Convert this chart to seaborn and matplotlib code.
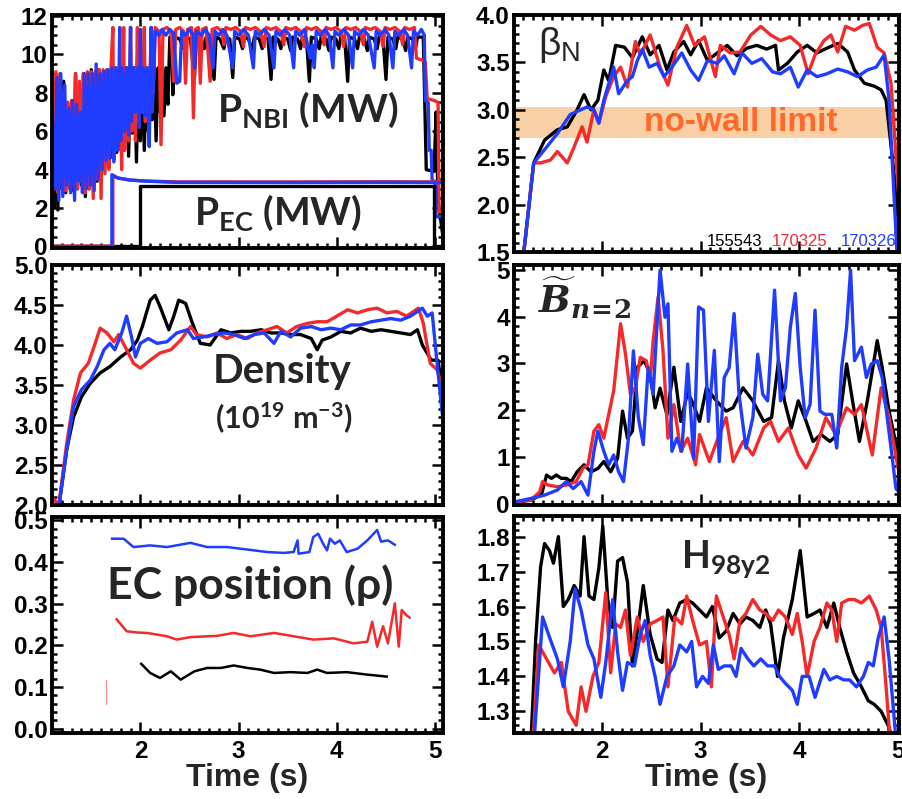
import matplotlib
matplotlib.use("Agg")
import matplotlib.pyplot as plt
from matplotlib.ticker import MultipleLocator, FormatStrFormatter
import numpy as np
import pandas as pd
import seaborn as sns

# ---------------------------------------------------------------- data
SHOTS = ["155543", "170325", "170326"]
COLORS = {"155543": "#000000", "170325": "#f42a2a", "170326": "#1f3cff"}

# Neutral-beam power (MW): (time s, value)
nbi_155543 = [
    (1.10, 6.0), (1.12, 2.0), (1.14, 8.5), (1.16, 1.9), (1.18, 8.8), (1.20, 3.0),
    (1.22, 8.6), (1.24, 2.8), (1.26, 7.5), (1.28, 3.2), (1.30, 7.5), (1.32, 2.9),
    (1.34, 9.0), (1.36, 3.0), (1.38, 8.0), (1.40, 3.2), (1.42, 9.0), (1.44, 2.6),
    (1.46, 9.0), (1.48, 3.0), (1.50, 9.2), (1.52, 3.1), (1.54, 9.0), (1.56, 3.4),
    (1.58, 9.2), (1.60, 3.9), (1.62, 9.0), (1.64, 4.3), (1.66, 9.2), (1.68, 4.1),
    (1.70, 9.2), (1.72, 4.6), (1.74, 9.2), (1.76, 4.9), (1.78, 9.2), (1.80, 5.2),
    (1.82, 9.3), (1.84, 5.5), (1.86, 9.3), (1.88, 4.7), (1.90, 9.3), (1.92, 5.9),
    (1.94, 9.3), (1.96, 4.4), (1.98, 9.3), (2.00, 5.5), (2.02, 9.3), (2.04, 5.0),
    (2.06, 9.3), (2.08, 6.0), (2.10, 9.3), (2.12, 6.6), (2.14, 9.3), (2.16, 5.5),
    (2.18, 9.3), (2.20, 7.0), (2.22, 9.3), (2.24, 6.8), (2.26, 9.3), (2.28, 7.4),
    (2.30, 10.9), (2.32, 10.9), (2.33, 7.9), (2.35, 10.9), (2.40, 10.8), (2.44, 10.3),
    (2.46, 10.9), (2.51, 10.8), (2.55, 8.7), (2.57, 10.9), (2.62, 10.8), (2.65, 10.3),
    (2.67, 10.9), (2.71, 10.8), (2.75, 8.7), (2.77, 10.9), (2.81, 10.8), (2.85, 10.3),
    (2.87, 10.9), (2.91, 10.8), (2.94, 8.8), (2.96, 10.9), (3.01, 10.8), (3.04, 10.3),
    (3.06, 10.9), (3.10, 10.8), (3.14, 10.2), (3.16, 10.9), (3.21, 10.8), (3.24, 10.3),
    (3.26, 10.9), (3.30, 10.8), (3.33, 8.7), (3.35, 10.9), (3.40, 10.8), (3.43, 10.3),
    (3.45, 10.9), (3.50, 10.8), (3.53, 10.2), (3.55, 10.9), (3.60, 10.8), (3.63, 10.3),
    (3.65, 10.9), (3.69, 10.8), (3.72, 8.6), (3.74, 10.9), (3.79, 10.8), (3.82, 10.3),
    (3.84, 10.9), (3.89, 10.8), (3.92, 10.2), (3.94, 10.9), (3.99, 10.8), (4.02, 10.3),
    (4.04, 10.9), (4.08, 10.8), (4.11, 8.6), (4.13, 10.9), (4.18, 10.8), (4.21, 10.3),
    (4.23, 10.9), (4.28, 10.8), (4.31, 10.2), (4.33, 10.9), (4.38, 10.8), (4.41, 10.3),
    (4.43, 10.9), (4.47, 10.8), (4.50, 8.7), (4.52, 10.9), (4.57, 10.8), (4.60, 10.3),
    (4.62, 10.9), (4.67, 10.8), (4.70, 10.2), (4.72, 10.9), (4.77, 10.8), (4.80, 10.3),
    (4.82, 10.9), (4.88, 10.9), (4.91, 4.0), (4.99, 3.9), (5.01, 7.0), (5.03, 2.4),
    (5.08, 0.5),
]
nbi_170325 = [
    (1.10, 6.4), (1.12, 3.0), (1.14, 9.1), (1.16, 2.8), (1.18, 9.0), (1.20, 3.3),
    (1.22, 8.0), (1.24, 2.9), (1.26, 7.5), (1.28, 3.0), (1.30, 7.6), (1.32, 3.2),
    (1.34, 9.0), (1.36, 3.0), (1.38, 8.6), (1.40, 3.4), (1.42, 9.0), (1.44, 2.8),
    (1.46, 9.1), (1.48, 3.0), (1.50, 9.1), (1.52, 2.5), (1.54, 9.1), (1.56, 3.5),
    (1.58, 9.2), (1.60, 2.5), (1.62, 9.2), (1.64, 3.8), (1.66, 9.2), (1.68, 4.0),
    (1.70, 9.2), (1.72, 11.4), (1.73, 4.5), (1.75, 9.3), (1.77, 5.0), (1.79, 9.3),
    (1.81, 4.0), (1.83, 11.4), (1.84, 5.0), (1.86, 9.3), (1.88, 5.5), (1.90, 11.4),
    (1.91, 6.0), (1.93, 9.3), (1.95, 5.5), (1.97, 11.4), (1.98, 6.5), (2.00, 9.3),
    (2.02, 7.0), (2.04, 11.4), (2.05, 6.5), (2.07, 9.3), (2.09, 7.2), (2.11, 11.4),
    (2.13, 8.0), (2.15, 11.4), (2.19, 11.2), (2.21, 5.3), (2.23, 11.3), (2.27, 11.4),
    (2.31, 11.2), (2.34, 8.6), (2.36, 11.3), (2.40, 11.4), (2.44, 11.2), (2.46, 8.5),
    (2.48, 11.3), (2.52, 11.4), (2.54, 6.7), (2.56, 11.3), (2.59, 11.4), (2.61, 8.5),
    (2.63, 11.3), (2.67, 11.4), (2.71, 8.6), (2.73, 11.3), (2.78, 11.4), (2.83, 11.2),
    (2.85, 10.5), (2.87, 11.4), (2.92, 11.3), (2.97, 11.4), (3.02, 11.2), (3.05, 10.4),
    (3.07, 11.4), (3.12, 11.3), (3.17, 11.4), (3.22, 11.2), (3.26, 10.4), (3.28, 11.4),
    (3.33, 11.3), (3.38, 11.4), (3.43, 11.2), (3.46, 10.5), (3.48, 11.4), (3.53, 11.3),
    (3.58, 11.4), (3.63, 11.2), (3.67, 10.4), (3.69, 11.4), (3.74, 11.3), (3.79, 11.4),
    (3.84, 11.2), (3.87, 10.5), (3.89, 11.4), (3.94, 11.3), (3.99, 11.4), (4.04, 11.2),
    (4.07, 10.4), (4.09, 11.4), (4.14, 11.3), (4.19, 11.4), (4.24, 11.2), (4.27, 10.5),
    (4.29, 11.4), (4.34, 11.3), (4.39, 11.4), (4.44, 11.2), (4.47, 10.4), (4.49, 11.4),
    (4.54, 11.3), (4.59, 11.4), (4.64, 11.2), (4.67, 10.5), (4.69, 11.4), (4.74, 11.3),
    (4.79, 11.4), (4.81, 9.8), (4.87, 9.7), (4.90, 9.6), (4.92, 7.7), (4.99, 7.6),
    (5.03, 7.5), (5.04, 1.8), (5.08, 1.8),
]
nbi_170326 = [
    (1.10, 1.5), (1.11, 6.3), (1.13, 3.0), (1.15, 8.8), (1.17, 2.4), (1.19, 9.0),
    (1.21, 2.6), (1.23, 8.4), (1.25, 3.2), (1.27, 7.2), (1.29, 2.8), (1.31, 7.6),
    (1.33, 2.4), (1.35, 7.4), (1.37, 3.4), (1.39, 7.0), (1.41, 2.8), (1.43, 9.0),
    (1.45, 3.0), (1.47, 9.0), (1.49, 3.2), (1.51, 9.0), (1.53, 2.9), (1.55, 9.5),
    (1.57, 3.5), (1.59, 9.0), (1.61, 4.0), (1.63, 9.1), (1.65, 4.5), (1.67, 9.2),
    (1.69, 4.6), (1.71, 9.3), (1.73, 4.4), (1.75, 9.3), (1.77, 5.0), (1.79, 11.4),
    (1.80, 5.5), (1.82, 9.3), (1.84, 6.0), (1.86, 9.3), (1.88, 5.8), (1.90, 11.4),
    (1.91, 6.5), (1.93, 9.3), (1.95, 7.0), (1.97, 9.3), (1.99, 6.2), (2.00, 11.3),
    (2.01, 7.0), (2.03, 9.3), (2.05, 6.8), (2.07, 9.3), (2.09, 5.2), (2.11, 11.4),
    (2.12, 7.0), (2.14, 9.3), (2.15, 11.2), (2.19, 11.0), (2.22, 11.3), (2.26, 11.0),
    (2.30, 11.3), (2.34, 11.1), (2.37, 8.5), (2.40, 8.6), (2.42, 11.2), (2.46, 11.0),
    (2.50, 11.3), (2.54, 11.0), (2.55, 9.3), (2.57, 11.2), (2.62, 11.0), (2.66, 11.3),
    (2.70, 11.0), (2.74, 9.3), (2.76, 11.2), (2.80, 11.0), (2.84, 11.3), (2.88, 11.0),
    (2.94, 9.3), (2.96, 11.2), (3.00, 11.0), (3.05, 11.3), (3.10, 11.0), (3.15, 9.3),
    (3.17, 11.2), (3.21, 11.0), (3.26, 11.3), (3.31, 11.0), (3.36, 9.3), (3.38, 11.2),
    (3.42, 11.0), (3.47, 11.3), (3.52, 11.0), (3.56, 9.3), (3.58, 11.2), (3.62, 11.0),
    (3.67, 11.3), (3.71, 10.2), (3.73, 9.8), (3.75, 10.5), (3.77, 9.3), (3.79, 11.2),
    (3.83, 11.0), (3.88, 11.3), (3.92, 11.0), (3.96, 9.3), (3.98, 11.2), (4.02, 11.0),
    (4.07, 11.3), (4.12, 11.0), (4.16, 9.3), (4.18, 11.2), (4.22, 11.0), (4.27, 11.3),
    (4.32, 11.0), (4.38, 9.3), (4.40, 11.2), (4.44, 11.0), (4.49, 11.3), (4.53, 11.0),
    (4.57, 9.3), (4.59, 11.2), (4.63, 11.0), (4.68, 11.3), (4.72, 11.0), (4.76, 9.3),
    (4.78, 11.2), (4.82, 11.0), (4.86, 11.3), (4.89, 11.0), (4.90, 7.6), (4.93, 7.5),
    (4.94, 5.0), (4.96, 5.0), (4.97, 3.4), (5.00, 3.4), (5.01, 1.55), (5.08, 1.55),
]

# Electron-cyclotron power (MW)
ec_155543 = [(1.10, 0.0), (2.00, 0.0), (2.00, 3.13), (4.99, 3.13), (4.99, 0.0), (5.08, 0.0)]
ec_170325 = [(1.10, 0.02), (1.72, 0.02), (1.72, 3.70), (1.78, 3.55), (1.90, 3.45),
             (2.10, 3.40), (2.40, 3.36), (3.50, 3.36), (4.50, 3.37), (5.08, 3.36)]
ec_170326 = [(1.10, 0.0), (1.71, 0.0), (1.71, 3.74), (1.76, 3.58), (1.88, 3.47),
             (2.05, 3.40), (2.35, 3.34), (3.50, 3.33), (4.50, 3.34), (5.08, 3.33)]

# Normalised beta
beta_155543 = [
    (1.21, 1.50), (1.31, 2.44), (1.42, 2.68), (1.55, 2.79), (1.65, 2.82), (1.75, 3.00),
    (1.82, 3.16), (1.89, 3.00), (1.96, 3.10), (2.02, 3.42), (2.07, 3.31), (2.14, 3.68),
    (2.23, 3.66), (2.31, 3.55), (2.41, 3.77), (2.49, 3.58), (2.58, 3.68), (2.66, 3.42),
    (2.73, 3.61), (2.83, 3.72), (2.90, 3.58), (2.98, 3.73), (3.07, 3.52), (3.17, 3.60),
    (3.27, 3.68), (3.37, 3.57), (3.47, 3.65), (3.57, 3.68), (3.67, 3.64), (3.76, 3.68),
    (3.79, 3.42), (3.88, 3.49), (3.98, 3.61), (4.08, 3.68), (4.18, 3.60), (4.28, 3.65),
    (4.39, 3.70), (4.49, 3.61), (4.56, 3.42), (4.66, 3.28), (4.76, 3.25), (4.83, 3.21),
    (4.88, 3.10), (4.96, 2.33), (5.03, 1.50),
]
beta_170325 = [
    (1.21, 1.50), (1.31, 2.44), (1.38, 2.44), (1.48, 2.47), (1.55, 2.56), (1.65, 2.44),
    (1.72, 2.61), (1.80, 2.82), (1.85, 2.66), (1.92, 3.00), (1.97, 2.86), (2.04, 3.14),
    (2.12, 3.35), (2.19, 3.45), (2.26, 3.24), (2.34, 3.72), (2.39, 3.58), (2.49, 3.79),
    (2.59, 3.45), (2.67, 3.26), (2.76, 3.66), (2.86, 3.89), (2.94, 3.68), (3.04, 3.77),
    (3.15, 3.35), (3.20, 3.68), (3.30, 3.60), (3.40, 3.61), (3.51, 3.79), (3.61, 3.88),
    (3.71, 3.79), (3.81, 3.73), (3.91, 3.77), (4.01, 3.68), (4.09, 3.38), (4.16, 3.58),
    (4.25, 3.73), (4.32, 3.79), (4.39, 3.61), (4.47, 3.88), (4.56, 3.84), (4.64, 3.89),
    (4.71, 3.91), (4.79, 3.66), (4.86, 3.60), (4.93, 3.28), (5.01, 2.05), (5.05, 1.40),
]
beta_170326 = [
    (1.21, 1.50), (1.31, 2.44), (1.42, 2.58), (1.55, 2.75), (1.68, 2.95), (1.85, 3.03),
    (1.92, 3.00), (1.97, 2.86), (2.02, 3.10), (2.12, 3.45), (2.17, 3.17), (2.26, 3.31),
    (2.31, 3.35), (2.36, 3.52), (2.41, 3.64), (2.48, 3.45), (2.56, 3.49), (2.63, 3.35),
    (2.71, 3.45), (2.81, 3.60), (2.90, 3.42), (2.98, 3.31), (3.07, 3.52), (3.17, 3.49),
    (3.24, 3.57), (3.34, 3.38), (3.42, 3.60), (3.52, 3.49), (3.62, 3.54), (3.73, 3.40),
    (3.81, 3.38), (3.91, 3.45), (3.99, 3.24), (4.08, 3.42), (4.18, 3.35), (4.28, 3.38),
    (4.39, 3.43), (4.49, 3.40), (4.59, 3.35), (4.69, 3.42), (4.78, 3.45), (4.86, 3.58),
    (4.91, 3.10), (4.99, 1.50),
]
nowall_low, nowall_high = 2.70, 3.03

# Line-averaged density (1e19 m^-3)
dens_155543 = [
    (1.12, 2.00), (1.17, 1.98), (1.25, 2.69), (1.32, 3.10), (1.40, 3.35), (1.49, 3.52),
    (1.59, 3.65), (1.69, 3.73), (1.80, 3.85), (1.90, 3.94), (1.97, 4.06), (2.02, 4.23),
    (2.10, 4.56), (2.15, 4.62), (2.20, 4.48), (2.29, 4.19), (2.34, 4.36), (2.39, 4.56),
    (2.46, 4.52), (2.53, 4.27), (2.61, 4.02), (2.71, 4.00), (2.82, 4.19), (2.92, 4.15),
    (3.02, 4.17), (3.12, 4.17), (3.23, 4.19), (3.33, 4.15), (3.43, 4.15), (3.53, 4.13),
    (3.63, 4.13), (3.74, 4.08), (3.80, 3.94), (3.85, 4.06), (3.94, 4.10), (4.04, 4.17),
    (4.14, 4.15), (4.24, 4.21), (4.35, 4.17), (4.45, 4.19), (4.55, 4.17), (4.65, 4.15),
    (4.75, 4.13), (4.82, 4.19), (4.87, 4.00), (4.96, 3.81), (5.03, 3.81), (5.08, 3.35),
]
dens_170325 = [
    (1.10, 2.10), (1.17, 2.00), (1.25, 2.77), (1.32, 3.31), (1.39, 3.65), (1.47, 3.77),
    (1.54, 4.02), (1.59, 4.21), (1.66, 4.15), (1.73, 4.04), (1.78, 4.13), (1.86, 3.94),
    (1.93, 3.77), (2.00, 3.71), (2.10, 3.81), (2.20, 3.90), (2.31, 3.94), (2.41, 4.06),
    (2.51, 4.23), (2.57, 4.13), (2.68, 4.10), (2.78, 4.15), (2.88, 4.08), (2.98, 4.13),
    (3.09, 4.08), (3.19, 4.15), (3.29, 4.19), (3.39, 4.23), (3.49, 4.15), (3.59, 4.23),
    (3.70, 4.27), (3.80, 4.29), (3.90, 4.29), (4.00, 4.36), (4.11, 4.44), (4.21, 4.40),
    (4.31, 4.44), (4.41, 4.46), (4.51, 4.40), (4.61, 4.42), (4.71, 4.36), (4.83, 4.46),
    (4.88, 4.27), (4.95, 3.77), (5.02, 3.69), (5.08, 3.44),
]
dens_170326 = [
    (1.13, 1.98), (1.17, 1.98), (1.25, 2.69), (1.32, 3.23), (1.40, 3.44), (1.49, 3.56),
    (1.56, 3.73), (1.63, 3.94), (1.69, 4.02), (1.74, 3.94), (1.81, 4.15), (1.86, 4.36),
    (1.91, 4.10), (1.95, 3.85), (2.00, 4.02), (2.08, 4.08), (2.17, 4.02), (2.27, 4.04),
    (2.37, 4.15), (2.48, 4.19), (2.54, 4.08), (2.64, 4.10), (2.75, 4.13), (2.85, 4.15),
    (2.95, 4.13), (3.06, 4.08), (3.16, 4.13), (3.26, 4.15), (3.36, 4.02), (3.43, 4.17),
    (3.53, 4.10), (3.63, 4.21), (3.74, 4.23), (3.84, 4.19), (3.94, 4.21), (4.04, 4.19),
    (4.14, 4.25), (4.24, 4.25), (4.35, 4.29), (4.45, 4.31), (4.55, 4.33), (4.65, 4.31),
    (4.75, 4.36), (4.87, 4.46), (4.92, 4.36), (4.97, 4.40), (5.02, 3.77), (5.08, 3.06),
]

# n=2 magnetic fluctuation amplitude
bn2_155543 = [
    (1.13, 0.04), (1.28, 0.07), (1.39, 0.20), (1.44, 0.61), (1.49, 0.54), (1.54, 0.61),
    (1.59, 0.54), (1.64, 0.54), (1.69, 0.47), (1.75, 0.68), (1.82, 0.83), (1.89, 0.68),
    (1.96, 0.75), (2.02, 0.90), (2.09, 0.68), (2.16, 0.97), (2.21, 1.98), (2.26, 1.40),
    (2.31, 1.55), (2.36, 2.92), (2.43, 3.06), (2.49, 2.78), (2.54, 2.05), (2.59, 2.47),
    (2.66, 1.90), (2.73, 2.92), (2.80, 1.76), (2.87, 2.39), (2.93, 2.11), (2.99, 1.76),
    (3.06, 2.48), (3.16, 2.20), (3.26, 1.98), (3.33, 2.05), (3.43, 2.48), (3.53, 2.20),
    (3.64, 1.76), (3.72, 1.84), (3.79, 3.06), (3.85, 2.20), (3.92, 1.62), (3.99, 2.20),
    (4.07, 1.76), (4.14, 1.33), (4.22, 1.48), (4.31, 1.33), (4.39, 1.48), (4.48, 2.99),
    (4.54, 2.20), (4.61, 1.33), (4.69, 2.20), (4.74, 2.84), (4.79, 3.49), (4.84, 2.92),
    (4.91, 1.98), (5.01, 0.97),
]
bn2_170325 = [
    (1.13, 0.04), (1.28, 0.07), (1.37, 0.25), (1.40, 0.47), (1.45, 0.40), (1.55, 0.36),
    (1.65, 0.40), (1.74, 0.47), (1.81, 0.76), (1.86, 0.83), (1.92, 1.55), (1.97, 1.69),
    (2.02, 1.40), (2.07, 1.91), (2.12, 2.41), (2.19, 3.85), (2.24, 3.20), (2.29, 2.34),
    (2.34, 2.48), (2.39, 3.13), (2.45, 3.06), (2.49, 2.63), (2.52, 3.49), (2.57, 4.42),
    (2.62, 3.27), (2.67, 1.40), (2.73, 2.12), (2.80, 1.12), (2.87, 1.40), (2.95, 0.83),
    (2.99, 1.48), (3.09, 0.90), (3.19, 1.48), (3.26, 1.84), (3.33, 0.90), (3.43, 1.33),
    (3.53, 1.04), (3.64, 1.62), (3.71, 1.76), (3.79, 1.33), (3.89, 1.62), (3.99, 1.04),
    (4.07, 0.76), (4.17, 1.19), (4.27, 1.84), (4.37, 1.48), (4.48, 2.05), (4.56, 1.91),
    (4.63, 2.12), (4.68, 1.62), (4.74, 1.04), (4.83, 2.48), (4.91, 1.84), (5.02, 0.54),
]
bn2_170326 = [
    (1.13, 0.04), (1.28, 0.11), (1.42, 0.18), (1.55, 0.29), (1.64, 0.47), (1.71, 0.32),
    (1.79, 0.47), (1.86, 0.18), (1.92, 1.12), (1.96, 1.55), (2.02, 1.12), (2.07, 0.83),
    (2.12, 1.04), (2.17, 0.68), (2.22, 0.47), (2.27, 1.40), (2.32, 3.27), (2.37, 1.84),
    (2.42, 1.26), (2.47, 2.92), (2.52, 2.34), (2.59, 5.00), (2.64, 3.99), (2.67, 4.28),
    (2.71, 1.12), (2.76, 1.40), (2.81, 1.12), (2.87, 2.99), (2.93, 0.97), (2.98, 4.21),
    (3.03, 4.14), (3.08, 1.76), (3.14, 3.28), (3.19, 0.90), (3.24, 2.70), (3.29, 2.91),
    (3.34, 4.07), (3.39, 2.34), (3.46, 1.19), (3.53, 1.84), (3.58, 3.20), (3.63, 2.34),
    (3.68, 2.20), (3.75, 4.57), (3.81, 2.20), (3.86, 2.48), (3.91, 3.78), (3.96, 4.50),
    (4.01, 2.91), (4.06, 1.84), (4.11, 2.12), (4.16, 4.14), (4.21, 1.98), (4.26, 1.91),
    (4.33, 1.91), (4.38, 1.19), (4.43, 2.91), (4.48, 3.78), (4.52, 5.00), (4.56, 3.06),
    (4.63, 3.35), (4.68, 2.70), (4.73, 2.99), (4.79, 3.06), (4.84, 2.70), (4.93, 1.19),
    (4.98, 0.32), (5.01, 0.25),
]

# EC deposition radius (normalised)
ecpos_155543 = [
    (2.00, 0.158), (2.10, 0.134), (2.20, 0.122), (2.31, 0.138), (2.41, 0.118),
    (2.55, 0.138), (2.68, 0.146), (2.82, 0.146), (2.95, 0.152), (3.09, 0.146),
    (3.22, 0.142), (3.36, 0.134), (3.53, 0.136), (3.70, 0.134), (3.80, 0.142),
    (3.90, 0.134), (4.10, 0.136), (4.31, 0.130), (4.52, 0.125),
]
ecpos_170325 = [
    (1.75, 0.265), (1.86, 0.234), (1.97, 0.231), (2.07, 0.230), (2.17, 0.226),
    (2.27, 0.222), (2.37, 0.214), (2.51, 0.220), (2.78, 0.223), (2.95, 0.230),
    (3.12, 0.222), (3.36, 0.230), (3.56, 0.222), (3.76, 0.214), (3.97, 0.217),
    (4.17, 0.205), (4.31, 0.209), (4.36, 0.257), (4.41, 0.197), (4.47, 0.246),
    (4.52, 0.205), (4.59, 0.301), (4.63, 0.197), (4.66, 0.285), (4.71, 0.272),
    (4.75, 0.265),
]
ecpos_170325_early = [(1.65, 0.060), (1.65, 0.118)]
ecpos_170326 = [
    (1.70, 0.456), (1.83, 0.456), (1.93, 0.436), (2.10, 0.440), (2.27, 0.436),
    (2.51, 0.446), (2.68, 0.436), (2.88, 0.436), (3.09, 0.430), (3.29, 0.424),
    (3.46, 0.422), (3.56, 0.424), (3.60, 0.452), (3.61, 0.420), (3.72, 0.424),
    (3.76, 0.460), (3.81, 0.468), (3.86, 0.444), (3.90, 0.428), (3.93, 0.456),
    (3.98, 0.444), (4.03, 0.452), (4.10, 0.424), (4.21, 0.432), (4.31, 0.452),
    (4.41, 0.477), (4.45, 0.449), (4.52, 0.452), (4.60, 0.440),
]

# Confinement factor H98(y,2)
h98_155543 = [
    (1.28, 1.20), (1.33, 1.505), (1.38, 1.714), (1.42, 1.78), (1.47, 1.76), (1.51, 1.724),
    (1.56, 1.80), (1.61, 1.60), (1.66, 1.62), (1.72, 1.66), (1.78, 1.63), (1.82, 1.80),
    (1.87, 1.63), (1.92, 1.62), (1.97, 1.71), (2.01, 1.83), (2.06, 1.62), (2.11, 1.54),
    (2.16, 1.73), (2.21, 1.74), (2.26, 1.67), (2.31, 1.43), (2.38, 1.57), (2.42, 1.66),
    (2.49, 1.52), (2.56, 1.45), (2.61, 1.44), (2.67, 1.59), (2.72, 1.56), (2.79, 1.61),
    (2.86, 1.62), (2.92, 1.61), (2.99, 1.59), (3.06, 1.57), (3.12, 1.60), (3.19, 1.51),
    (3.26, 1.53), (3.33, 1.58), (3.40, 1.55), (3.46, 1.57), (3.53, 1.56), (3.60, 1.54),
    (3.66, 1.59), (3.71, 1.55), (3.78, 1.40), (3.84, 1.51), (3.93, 1.62), (4.01, 1.76),
    (4.08, 1.57), (4.15, 1.58), (4.21, 1.59), (4.28, 1.54), (4.35, 1.61), (4.41, 1.54),
    (4.48, 1.47), (4.55, 1.41), (4.63, 1.37), (4.70, 1.33), (4.76, 1.32), (4.83, 1.30),
    (4.90, 1.26), (4.95, 1.22),
]
h98_170325 = [
    (1.30, 1.20), (1.36, 1.49), (1.42, 1.46), (1.52, 1.41), (1.59, 1.44), (1.66, 1.30),
    (1.74, 1.26), (1.79, 1.37), (1.84, 1.30), (1.91, 1.40), (1.97, 1.44), (2.04, 1.64),
    (2.09, 1.41), (2.14, 1.55), (2.19, 1.54), (2.24, 1.59), (2.29, 1.46), (2.36, 1.57),
    (2.42, 1.50), (2.49, 1.55), (2.56, 1.56), (2.62, 1.57), (2.67, 1.37), (2.74, 1.57),
    (2.81, 1.55), (2.86, 1.63), (2.92, 1.56), (2.99, 1.49), (3.06, 1.50), (3.11, 1.37),
    (3.16, 1.63), (3.23, 1.57), (3.29, 1.52), (3.34, 1.45), (3.40, 1.56), (3.46, 1.58),
    (3.53, 1.62), (3.60, 1.59), (3.66, 1.58), (3.73, 1.56), (3.79, 1.59), (3.86, 1.57),
    (3.93, 1.52), (3.98, 1.58), (4.03, 1.50), (4.08, 1.40), (4.15, 1.50), (4.21, 1.54),
    (4.28, 1.61), (4.33, 1.59), (4.38, 1.50), (4.43, 1.61), (4.50, 1.62), (4.56, 1.62),
    (4.63, 1.61), (4.71, 1.63), (4.78, 1.59), (4.83, 1.54), (4.88, 1.37), (4.92, 1.22),
]
h98_170326 = [
    (1.31, 1.20), (1.40, 1.57), (1.46, 1.52), (1.55, 1.45), (1.61, 1.37), (1.68, 1.50),
    (1.73, 1.65), (1.79, 1.59), (1.86, 1.49), (1.92, 1.45), (1.99, 1.34), (2.04, 1.44),
    (2.11, 1.62), (2.16, 1.47), (2.21, 1.36), (2.26, 1.44), (2.33, 1.43), (2.39, 1.52),
    (2.44, 1.56), (2.49, 1.46), (2.54, 1.40), (2.59, 1.32), (2.66, 1.40), (2.73, 1.43),
    (2.79, 1.49), (2.86, 1.47), (2.91, 1.50), (2.96, 1.37), (3.02, 1.40), (3.08, 1.38),
    (3.13, 1.49), (3.18, 1.42), (3.24, 1.43), (3.31, 1.43), (3.36, 1.40), (3.41, 1.48),
    (3.48, 1.45), (3.54, 1.43), (3.61, 1.45), (3.68, 1.43), (3.75, 1.43), (3.80, 1.40),
    (3.86, 1.38), (3.93, 1.36), (3.98, 1.32), (4.03, 1.40), (4.10, 1.40), (4.16, 1.34),
    (4.25, 1.42), (4.31, 1.39), (4.38, 1.40), (4.45, 1.39), (4.51, 1.39), (4.58, 1.37),
    (4.65, 1.40), (4.70, 1.44), (4.75, 1.43), (4.80, 1.51), (4.86, 1.57), (4.91, 1.45),
    (4.98, 1.22),
]

# ---------------------------------------------------------------- style
sns.set_theme(style="ticks")
plt.rcParams["font.family"] = ["Liberation Sans", "DejaVu Sans"]
plt.rcParams["font.weight"] = "bold"
plt.rcParams["mathtext.fontset"] = "custom"
plt.rcParams["mathtext.default"] = "regular"
plt.rcParams["mathtext.bf"] = "DejaVu Serif:bold"
LABEL_FONT = ["Lato", "DejaVu Sans"]


def frame(series):
    parts = []
    for shot, pairs in series.items():
        t, v = zip(*pairs)
        parts.append(pd.DataFrame({"t": t, "v": v, "shot": shot}))
    return pd.concat(parts, ignore_index=True)


def traces(ax, series, lw):
    sns.lineplot(data=frame(series), x="t", y="v", hue="shot",
                 hue_order=[s for s in SHOTS if s in series],
                 palette=COLORS, estimator=None, sort=False, legend=False,
                 lw=lw, ax=ax, solid_joinstyle="round", solid_capstyle="butt")


def style_axis(ax, xlim, ylim, yticks, yminor, yfmt, show_x):
    ax.set_xlim(*xlim)
    ax.set_ylim(*ylim)
    ax.set_xticks([2, 3, 4, 5])
    ax.xaxis.set_minor_locator(MultipleLocator(0.1))
    ax.set_yticks(yticks)
    ax.yaxis.set_minor_locator(MultipleLocator(yminor))
    ax.yaxis.set_major_formatter(FormatStrFormatter(yfmt))
    ax.tick_params(which="both", direction="in", top=True, right=True,
                   width=1.8, labelsize=17.5, colors="black")
    ax.tick_params(axis="y", which="both", pad=3)
    ax.tick_params(axis="x", which="both", pad=5)
    ax.tick_params(which="major", length=8)
    ax.tick_params(which="minor", length=3.5)
    for sp in ax.spines.values():
        sp.set_linewidth(2.8)
        sp.set_color("black")
    ax.set_ylabel("")
    if show_x:
        ax.set_xlabel("Time (s)", fontsize=23, fontweight="bold", labelpad=0)
    else:
        ax.set_xlabel("")
        ax.tick_params(axis="x", labelbottom=False)


fig = plt.figure(figsize=(9.02, 7.99), dpi=100)
XL = (1.10, 5.08)
XR = (1.11, 5.01)

# ---------------------------------------------------------------- heating power
ax = fig.add_axes([0.0576, 0.6896, 0.4335, 0.2916])
traces(ax, {"155543": nbi_155543, "170325": nbi_170325, "170326": nbi_170326}, 2.4)
traces(ax, {"155543": ec_155543, "170325": ec_170325, "170326": ec_170326}, 2.4)
style_axis(ax, XL, (-0.08, 12.05), np.arange(0, 13, 2), 0.5, "%d", False)
ax.text(0.655, 0.592, r"$P_{NBI}$ (MW)", transform=ax.transAxes, ha="center",
        va="center", fontsize=28, fontweight="bold", family=LABEL_FONT)
ax.text(0.578, 0.150, r"$P_{EC}$ (MW)", transform=ax.transAxes, ha="center",
        va="center", fontsize=28, fontweight="bold", family=LABEL_FONT)

# ---------------------------------------------------------------- beta_N
ax = fig.add_axes([0.5698, 0.6846, 0.4268, 0.2966])
ax.axhspan(nowall_low, nowall_high, color="#f9cfa6", lw=0, zorder=0)
traces(ax, {"155543": beta_155543, "170325": beta_170325, "170326": beta_170326}, 2.4)
style_axis(ax, XR, (1.5, 4.0), np.arange(1.5, 4.01, 0.5), 0.1, "%.1f", False)
ax.text(3.41, 2.865, "no-wall limit", ha="center", va="center", fontsize=24,
        fontweight="bold", color="#ff6a2a")
ax.text(0.062, 0.873, r"$\beta_N$", transform=ax.transAxes, ha="left",
        va="center", fontsize=28, fontweight="normal")
for shot, xpos in zip(SHOTS, [3.34, 4.00, 4.70]):
    ax.text(xpos, 1.61, shot, ha="center", va="center", fontsize=12,
            fontweight="normal", color=COLORS[shot])

# ---------------------------------------------------------------- density
ax = fig.add_axes([0.0576, 0.3680, 0.4335, 0.3004])
traces(ax, {"155543": dens_155543, "170325": dens_170325, "170326": dens_170326}, 2.4)
style_axis(ax, XL, (2.0, 5.0), np.arange(2.0, 5.01, 0.5), 0.1, "%.1f", False)
ax.text(0.589, 0.558, "Density", transform=ax.transAxes, ha="center", va="center",
        fontsize=29, fontweight="bold", family=LABEL_FONT)
ax.text(0.593, 0.362, r"(10$^{19}$ m$^{-3}$)", transform=ax.transAxes, ha="center",
        va="center", fontsize=22, fontweight="bold", family=LABEL_FONT)

# ---------------------------------------------------------------- B n=2
ax = fig.add_axes([0.5698, 0.3680, 0.4268, 0.3004])
traces(ax, {"155543": bn2_155543, "170325": bn2_170325, "170326": bn2_170326}, 2.4)
style_axis(ax, XR, (-0.03, 5.11), np.arange(0, 6, 1), 0.2, "%d", False)
ax.text(0.062, 0.862, r"$\widetilde{B}_{n\!\mathbf{=}\!\mathbf{2}}$",
        transform=ax.transAxes, ha="left", va="center", fontsize=27,
        fontweight="bold", fontstyle="italic", family="DejaVu Serif")

# ---------------------------------------------------------------- EC position
ax = fig.add_axes([0.0576, 0.0826, 0.4335, 0.2703])
traces(ax, {"155543": ecpos_155543, "170325": ecpos_170325, "170326": ecpos_170326}, 1.8)
sns.lineplot(data=frame({"170325": ecpos_170325_early}), x="t", y="v", hue="shot",
             palette=COLORS, estimator=None, sort=False, legend=False, lw=1.0,
             alpha=0.5, ax=ax)
style_axis(ax, XL, (-0.01, 0.508), np.arange(0, 0.51, 0.1), 0.02, "%.1f", True)
ax.text(0.506, 0.685, "EC position (ρ)", transform=ax.transAxes, ha="center",
        va="center", fontsize=32, fontweight="bold", family=LABEL_FONT)

# ---------------------------------------------------------------- H98
ax = fig.add_axes([0.5698, 0.0826, 0.4268, 0.2716])
traces(ax, {"155543": h98_155543, "170325": h98_170325, "170326": h98_170326}, 2.4)
style_axis(ax, XR, (1.238, 1.859), np.arange(1.3, 1.81, 0.1), 0.02, "%.1f", True)
ax.text(0.434, 0.80, r"$H_{98y2}$", transform=ax.transAxes, ha="left",
        va="center", fontsize=27, fontweight="bold", family=LABEL_FONT)

fig.savefig("out.png", dpi=100)
